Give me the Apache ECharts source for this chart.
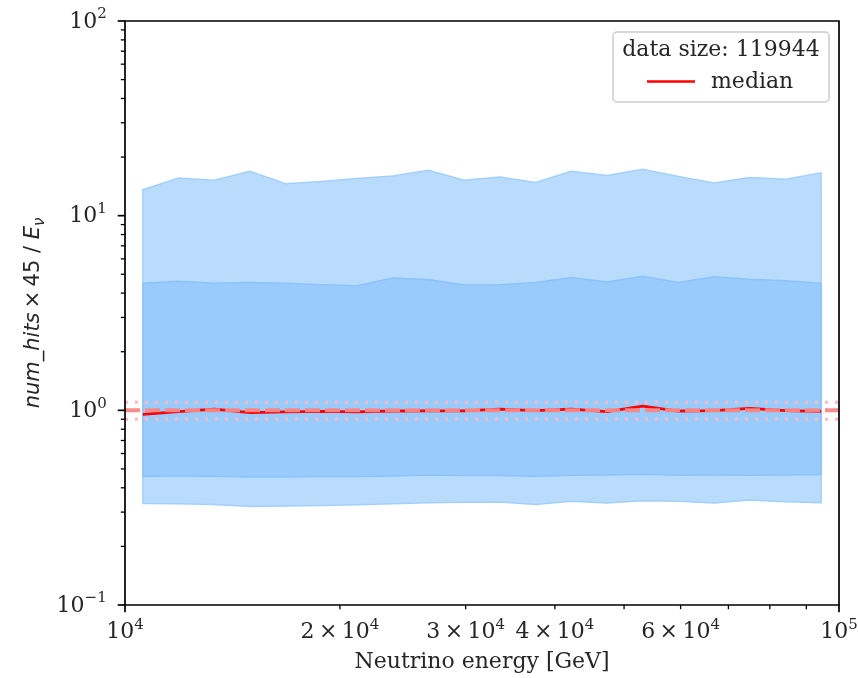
<!DOCTYPE html>
<html><head><meta charset="utf-8">
<script src="https://cdn.jsdelivr.net/npm/echarts@6/dist/echarts.min.js"></script>
<style>html,body{margin:0;padding:0;background:#fff}#c{width:858px;height:678px}</style>
</head><body><div id="c"></div>
<script>
// ---- data ----
const energy = [10593, 11885, 13335, 14962, 16788, 18836, 21135, 23714, 26607, 29854,
                33497, 37584, 42170, 47315, 53088, 59566, 66834, 74989, 84140, 94406];
const outerUpper = [13.6, 15.6, 15.2, 16.9, 14.6, 15.0, 15.5, 16.0, 17.1, 15.2,
                    15.8, 14.8, 16.9, 16.1, 17.3, 15.9, 14.7, 15.7, 15.4, 16.6];
const innerUpper = [4.49, 4.61, 4.49, 4.54, 4.49, 4.42, 4.36, 4.79, 4.70, 4.41,
                    4.42, 4.54, 4.81, 4.57, 4.88, 4.54, 4.86, 4.71, 4.63, 4.49];
const innerLower = [0.458, 0.460, 0.458, 0.454, 0.455, 0.457, 0.457, 0.460, 0.465, 0.462,
                    0.462, 0.458, 0.464, 0.465, 0.469, 0.464, 0.465, 0.464, 0.465, 0.468];
const outerLower = [0.332, 0.331, 0.328, 0.321, 0.323, 0.324, 0.327, 0.331, 0.335, 0.337,
                    0.338, 0.328, 0.341, 0.334, 0.343, 0.341, 0.334, 0.346, 0.339, 0.335];
const median = [0.954, 0.985, 1.015, 0.973, 0.983, 0.988, 0.983, 0.992, 0.994, 0.994,
                1.015, 0.996, 1.015, 0.985, 1.052, 0.992, 0.996, 1.024, 0.996, 0.988];
const refCenter = 1.0;
const refBand = [1.1, 0.9];

const xRange = [10000, 100000];
const yRange = [0.1, 100];
const xMajorTicks = [10000, 100000];
const xMinorTicks = [20000, 30000, 40000, 50000, 60000, 70000, 80000, 90000];
const xLabelValues = [10000, 20000, 30000, 40000, 60000, 100000];
const xLabelTexts = ['{b|10}{s|4}', '{b|2\u2009×\u200910}{s|4}', '{b|3\u2009×\u200910}{s|4}',
                     '{b|4\u2009×\u200910}{s|4}', '{b|6\u2009×\u200910}{s|4}', '{b|10}{s|5}'];
const yMajorTicks = [0.1, 1, 10, 100];
const yMinorTicks = [0.2, 0.3, 0.4, 0.5, 0.6, 0.7, 0.8, 0.9, 2, 3, 4, 5, 6, 7, 8, 9,
                     20, 30, 40, 50, 60, 70, 80, 90];
const yLabelValues = [0.1, 1, 10, 100];
const yLabelTexts = ['{b|10}{s|\u22121}', '{b|10}{s|0}', '{b|10}{s|1}', '{b|10}{s|2}'];

const xTitle = 'Neutrino energy [GeV]';
const yTitle = '{i|num_hits}{r|\u2009×\u200945 / }{i|E}{sub|ν}';
const legendTitle = 'data size: 119944';
const medianName = 'median';

// ---- styling ----
const SERIF = '"DejaVu Serif", serif';
const SANS = '"DejaVu Sans", sans-serif';
const TXT = '#262626';
const FS = 22;

const tickRich = {
  b: {fontSize: FS, fontFamily: SERIF, lineHeight: 26, verticalAlign: 'bottom', fill: TXT},
  s: {fontSize: 15, fontFamily: SERIF, lineHeight: 15, verticalAlign: 'top', fill: TXT}
};

function bandRenderer(upper, lower, fill, stroke) {
  return function (params, api) {
    const pts = [];
    for (let i = 0; i < energy.length; i++) pts.push(api.coord([energy[i], upper[i]]));
    for (let i = energy.length - 1; i >= 0; i--) pts.push(api.coord([energy[i], lower[i]]));
    return {type: 'polygon', shape: {points: pts}, style: {fill: fill, stroke: stroke, lineWidth: 1.5}};
  };
}

function seg(x1, y1, x2, y2, w) {
  return {type: 'line', shape: {x1: x1, y1: y1, x2: x2, y2: y2}, style: {stroke: '#000', lineWidth: w}};
}

function axesRenderer(params, api) {
  const ch = [];
  const tl = api.coord([xRange[0], yRange[1]]);
  const br = api.coord([xRange[1], yRange[0]]);
  const MAJ = 7.3, MIN = 4.2;
  xMajorTicks.forEach(v => { const p = api.coord([v, yRange[0]]); ch.push(seg(p[0], br[1], p[0], br[1] + MAJ, 1.7)); });
  xMinorTicks.forEach(v => { const p = api.coord([v, yRange[0]]); ch.push(seg(p[0], br[1], p[0], br[1] + MIN, 1.3)); });
  yMajorTicks.forEach(v => { const p = api.coord([xRange[0], v]); ch.push(seg(tl[0] - MAJ, p[1], tl[0], p[1], 1.7)); });
  yMinorTicks.forEach(v => { const p = api.coord([xRange[0], v]); ch.push(seg(tl[0] - MIN, p[1], tl[0], p[1], 1.3)); });
  ch.push({type: 'rect', shape: {x: tl[0], y: tl[1], width: br[0] - tl[0], height: br[1] - tl[1]},
           style: {fill: 'none', stroke: '#000', lineWidth: 1.7}});
  xLabelValues.forEach((v, i) => {
    const p = api.coord([v, yRange[0]]);
    ch.push({type: 'text', style: {text: xLabelTexts[i], x: p[0], y: br[1] + MAJ + 5,
      align: 'center', verticalAlign: 'top', fill: TXT, fontSize: FS, fontFamily: SERIF, rich: tickRich}});
  });
  yLabelValues.forEach((v, i) => {
    const p = api.coord([xRange[0], v]);
    ch.push({type: 'text', style: {text: yLabelTexts[i], x: tl[0] - MAJ - 11, y: p[1] - 1,
      align: 'right', verticalAlign: 'middle', fill: TXT, fontSize: FS, fontFamily: SERIF, rich: tickRich}});
  });
  return {type: 'group', children: ch};
}

const chart = echarts.init(document.getElementById('c'), null, {renderer: 'canvas'});
chart.setOption({
  animation: false,
  backgroundColor: '#fff',
  grid: {left: 125, top: 21, width: 714, height: 587, show: false},
  xAxis: {
    type: 'log', logBase: 10, min: xRange[0], max: xRange[1],
    axisLine: {show: false}, axisTick: {show: false}, axisLabel: {show: false}, splitLine: {show: false},
    name: xTitle, nameLocation: 'middle', nameGap: 46,
    nameTextStyle: {fontFamily: SERIF, fontSize: FS, color: TXT}
  },
  yAxis: {
    type: 'log', logBase: 10, min: yRange[0], max: yRange[1],
    axisLine: {show: false}, axisTick: {show: false}, axisLabel: {show: false}, splitLine: {show: false},
    name: yTitle, nameLocation: 'middle', nameGap: 77, nameRotate: 90,
    nameTextStyle: {
      fontFamily: SANS, fontSize: 21, color: TXT,
      rich: {
        i: {fontFamily: SANS, fontSize: 21, fontStyle: 'italic', color: TXT, lineHeight: 25, verticalAlign: 'top'},
        r: {fontFamily: SANS, fontSize: 21, color: TXT, lineHeight: 25, verticalAlign: 'top'},
        sub: {fontFamily: SANS, fontSize: 15, fontStyle: 'italic', color: TXT, lineHeight: 15, verticalAlign: 'bottom'}
      }
    }
  },
  series: [
    {type: 'custom', name: 'outer', renderItem: bandRenderer(outerUpper, outerLower, '#badcfc', '#a3d0fb'),
     data: [[0]], z: 1, silent: true},
    {type: 'custom', name: 'inner', renderItem: bandRenderer(innerUpper, innerLower, '#99cbfc', '#8cc3fb'),
     data: [[0]], z: 2, silent: true},
    {type: 'line', name: medianName, data: energy.map((e, i) => [e, median[i]]), symbol: 'none',
     lineStyle: {color: '#ff0000', width: 2.8}, z: 3, silent: true},
    {type: 'line', name: 'ref', data: [[xRange[0], refCenter], [xRange[1], refCenter]], symbol: 'none',
     lineStyle: {color: '#fa8686', width: 4, type: [15, 5], opacity: 0.95}, z: 4, silent: true},
    {type: 'line', name: 'refHi', data: [[xRange[0], refBand[0]], [xRange[1], refBand[0]]], symbol: 'none',
     lineStyle: {color: '#ffb9c4', width: 3, type: [3, 7]}, z: 4, silent: true},
    {type: 'line', name: 'refLo', data: [[xRange[0], refBand[1]], [xRange[1], refBand[1]]], symbol: 'none',
     lineStyle: {color: '#ffb9c4', width: 3, type: [3, 7]}, z: 4, silent: true},
    {type: 'custom', name: 'axes', renderItem: axesRenderer, data: [[0]], z: 10, silent: true}
  ],
  graphic: [{
    type: 'group', x: 613, y: 32, z: 20,
    children: [
      {type: 'rect', shape: {x: 0, y: 0, width: 216, height: 70, r: 4},
       style: {fill: 'rgba(255,255,255,0.85)', stroke: '#cccccc', lineWidth: 1.5}},
      {type: 'text', style: {text: legendTitle, x: 108, y: 18, align: 'center', verticalAlign: 'middle',
       fontSize: FS, fontFamily: SERIF, fill: TXT}},
      {type: 'line', shape: {x1: 34, y1: 49.5, x2: 82, y2: 49.5}, style: {stroke: '#ff0000', lineWidth: 2.6}},
      {type: 'text', style: {text: medianName, x: 98, y: 50, align: 'left', verticalAlign: 'middle',
       fontSize: FS, fontFamily: SERIF, fill: TXT}}
    ]
  }]
});
</script></body></html>
